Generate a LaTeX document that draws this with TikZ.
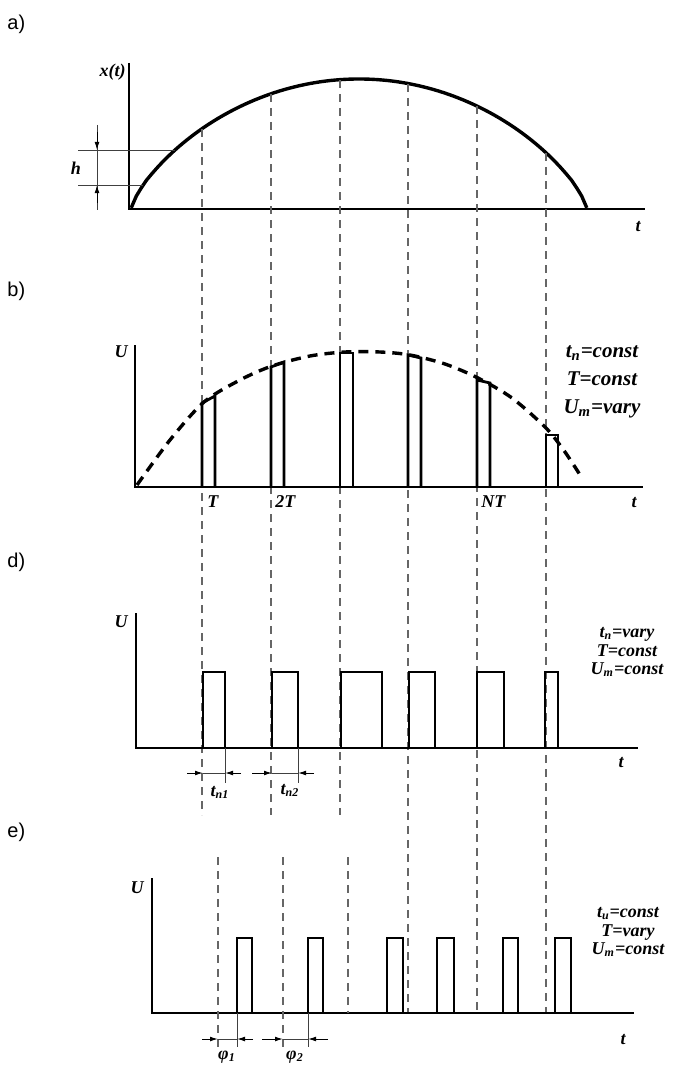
\documentclass[tikz,border=0pt]{standalone}
\usepackage{fontspec}
\setmainfont{Liberation Serif}
\newfontfamily\panelfont{Liberation Sans}
\usetikzlibrary{arrows.meta,positioning}

\begin{document}
\begin{tikzpicture}[
    x=0.5pt, y=-0.5pt,
    axis/.style={line width=1pt},
    pulse/.style={line width=1.4pt},
    guide/.style={dash pattern=on 4pt off 3pt, line width=0.6pt, black!60},
    thinline/.style={line width=0.5pt, black!75},
    dim/.style={line width=0.5pt, -{Latex[length=4pt,width=2.4pt]}},
    panel/.style={font=\panelfont\fontsize{10}{12}\selectfont, anchor=west, inner sep=0pt},
    lbl/.style={font=\bfseries\itshape\fontsize{9}{10}\selectfont, inner sep=0pt},
    mode/.style={font=\bfseries\itshape\fontsize{9}{9.2}\selectfont, align=center, inner sep=0pt}
]
\useasboundingbox (0,0) rectangle (679,1065);

% a) motion x(t)
\node[panel] (la) at (7,24) {a)};
\draw[axis] (129,63) -- (129,209) -- (645,209);
\node[lbl, anchor=east] (xt) at (126,72) {x(t)};
\node[lbl] (ta) at (638,227) {t};
\draw[line width=1.7pt, samples=90, domain=131.2:586.8]
    plot (\x, {209-130*pow(max(0.00001,1-((\x-359)/228)^2),0.75)});

% h mark
\draw[thinline] (78,150) -- (175,150);
\draw[thinline] (78,185) -- (143,185);
\draw[thinline] (97,125) -- (97,210);
\node[lbl] (h) at (76,168) {h};
\draw[dim] (97,132) -- (97,150);
\draw[dim] (97,203) -- (97,185);

% guide lines
\draw[guide] (202,129) -- (202,815);
\draw[guide] (271,94) -- (271,815);
\draw[guide] (340,80) -- (340,815);
\draw[guide] (408,84) -- (408,1013);
\draw[guide] (477,106) -- (477,1013);
\draw[guide] (546,153) -- (546,1013);

% b) amplitude
\node[panel] (lb) at (7,291) {b)};
\draw[axis] (135,345) -- (135,487) -- (643,487);
\node[lbl, anchor=east] (ub) at (128,352) {U};
\node[lbl] (tb) at (634,503) {t};
\node[lbl, anchor=west] (T1) at (207,502) {T};
\node[lbl, anchor=west] (T2) at (275,502) {2T};
\node[lbl, anchor=west] (TN) at (481,502) {NT};
\draw[line width=1.7pt, dash pattern=on 5pt off 3.5pt] plot[smooth] coordinates {(137,485) (170,440) (204,402) (240,380) (272,366) (310,356) (345,352) (380,352) (410,355) (445,364) (478,378) (512,398) (546,428) (565,452) (582,478)};
\draw[pulse] (202,487) -- (202,403) -- (215,396) -- (215,487);
\draw[pulse] (271,487) -- (271,367) -- (284,362) -- (284,487);
\draw[pulse] (340,487) -- (340,353) -- (353,353) -- (353,487);
\draw[pulse] (408,487) -- (408,355) -- (421,358) -- (421,487);
\draw[pulse] (477,487) -- (477,380) -- (490,383) -- (490,487);
\draw[pulse] (546,487) -- (546,435) -- (558,435) -- (558,487);
\node[mode, font=\bfseries\itshape\fontsize{10.5}{14}\selectfont] (mb) at (602,382) {t\textsubscript{n}=const\\T=const\\U\textsubscript{m}=vary};

% d) width
\node[panel] (ld) at (7,562) {d)};
\draw[axis] (136,613) -- (136,748) -- (638,748);
\node[lbl, anchor=east] (ud) at (128,622) {U};
\node[lbl] (td) at (621,763) {t};
\draw[pulse] (203,748) rectangle (225,672);
\draw[pulse] (272,748) rectangle (298,672);
\draw[pulse] (341,748) rectangle (382,672);
\draw[pulse] (409,748) rectangle (435,672);
\draw[pulse] (477,748) rectangle (504,672);
\draw[pulse] (545,748) rectangle (558,672);
\node[mode] (md) at (627,652) {t\textsubscript{n}=vary\\T=const\\U\textsubscript{m}=const};

% pulse widths
\draw[thinline] (225,748) -- (225,783);
\draw[thinline] (298,748) -- (298,783);
\draw[dim] (187,773) -- (203,773);
\draw[dim] (241,773) -- (225,773);
\draw[thinline] (203,773) -- (225,773);
\draw[dim] (252,773) -- (272,773);
\draw[dim] (314,773) -- (298,773);
\draw[thinline] (272,773) -- (298,773);
\node[lbl] (tn1) at (220,792) {t\textsubscript{n1}};
\node[lbl] (tn2) at (290,790) {t\textsubscript{n2}};

% e) period
\node[panel] (le) at (7,832) {e)};
\draw[axis] (152,878) -- (152,1013) -- (634,1013);
\node[lbl, anchor=east] (ue) at (144,888) {U};
\node[lbl] (te) at (623,1040) {t};
\draw[guide] (218,857) -- (218,1047);
\draw[guide] (283,857) -- (283,1047);
\draw[guide] (348,857) -- (348,1013);
\draw[pulse] (237,1013) rectangle (252,938);
\draw[pulse] (308,1013) rectangle (323,938);
\draw[pulse] (387,1013) rectangle (403,938);
\draw[pulse] (437,1013) rectangle (454,938);
\draw[pulse] (503,1013) rectangle (518,938);
\draw[pulse] (555,1013) rectangle (571,938);
\node[mode] (me) at (628,932) {t\textsubscript{u}=const\\T=vary\\U\textsubscript{m}=const};

% phase shifts
\draw[thinline] (237,1013) -- (237,1047);
\draw[thinline] (308,1013) -- (308,1047);
\draw[dim] (202,1039) -- (218,1039);
\draw[dim] (253,1039) -- (237,1039);
\draw[thinline] (218,1039) -- (237,1039);
\draw[dim] (262,1039) -- (283,1039);
\draw[dim] (328,1039) -- (308,1039);
\draw[thinline] (283,1039) -- (308,1039);
\node[lbl] (ph1) at (227,1057) {φ\textsubscript{1}};
\node[lbl] (ph2) at (295,1057) {φ\textsubscript{2}};

\end{tikzpicture}
\end{document}
